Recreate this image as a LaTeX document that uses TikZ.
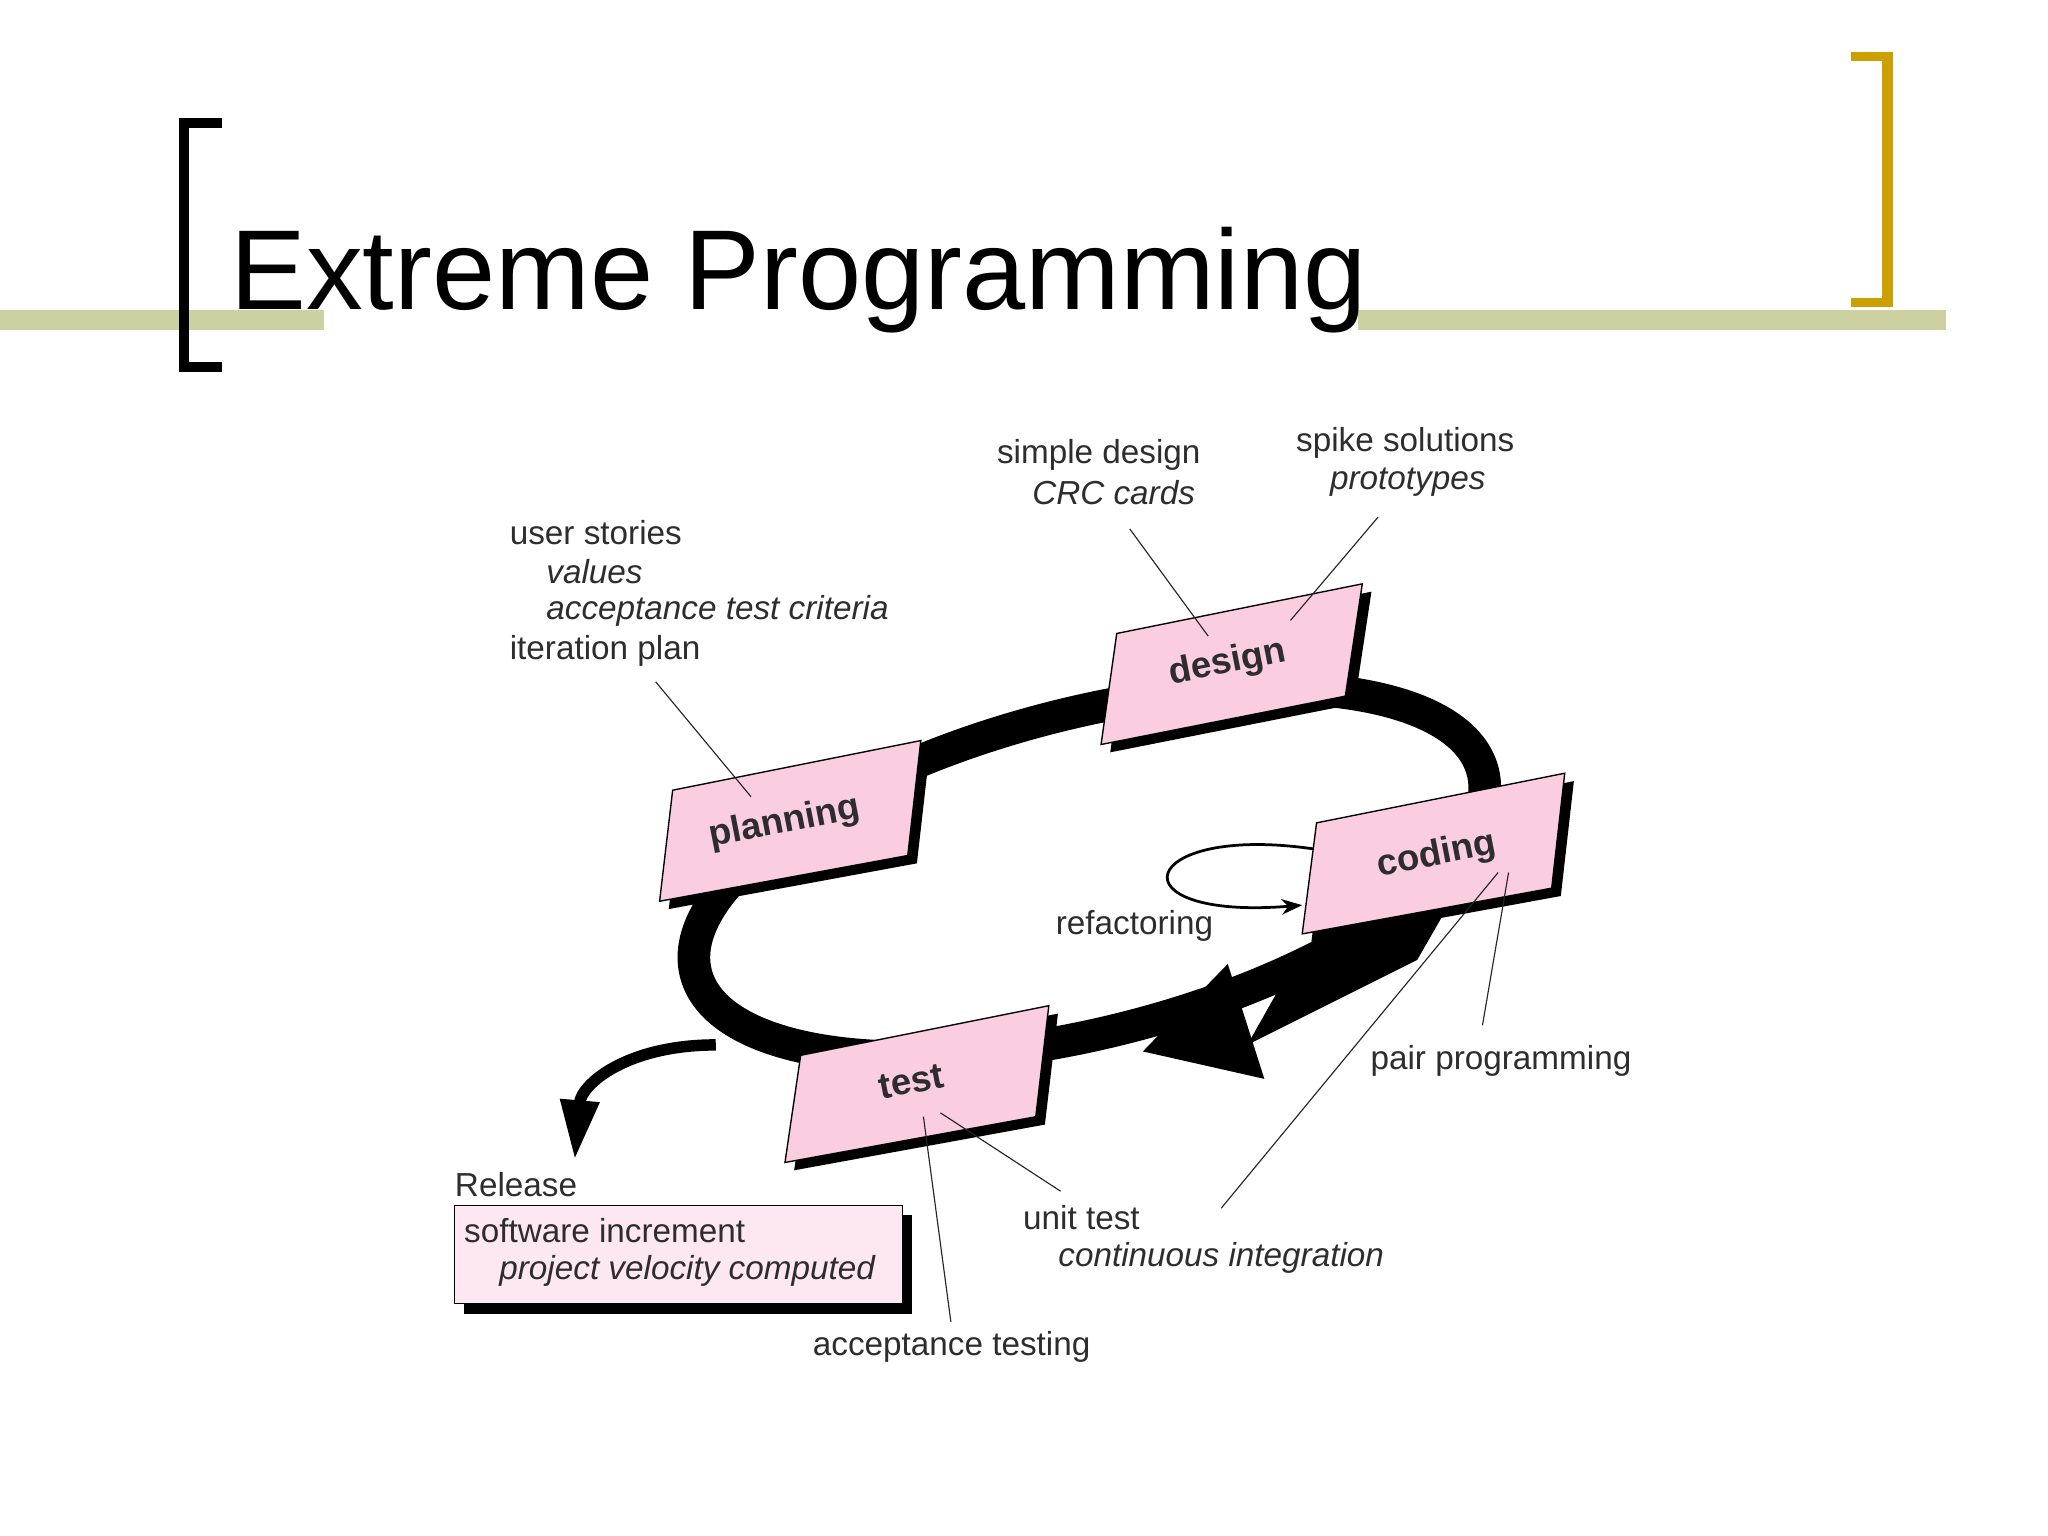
\documentclass[tikz,border=0pt]{standalone}
\usepackage{fontspec}
\setmainfont{Liberation Sans}
\usetikzlibrary{arrows.meta}
\definecolor{barc}{RGB}{205,208,160}
\definecolor{goldc}{RGB}{204,160,0}
\definecolor{pinkc}{RGB}{250,205,225}
\definecolor{lpink}{RGB}{253,232,242}
\definecolor{txt}{RGB}{45,45,45}
\tikzset{
 lbl/.style={anchor=west,inner sep=0pt,text=txt,font=\fontsize{14.5}{16}\selectfont},
 ilbl/.style={lbl,font=\fontsize{14.5}{16}\selectfont\itshape},
 boxt/.style={rotate=11,text=txt,font=\fontsize{16}{18}\selectfont\bfseries},
 lead/.style={draw=black!85,line width=0.5pt},
}
\begin{document}
\begin{tikzpicture}[x=0.02cm,y=-0.02cm]
\useasboundingbox (0,0) rectangle (1568,1176);
% title bars & brackets
\fill[barc] (0,237) rectangle (248,253);
\fill[barc] (1040,237) rectangle (1490,253);
\node[anchor=base west,inner sep=0pt,font=\fontsize{49.5}{56}\selectfont] (title) at (176,237) {Extreme Programming};
\fill[black] (137,90) rectangle (145,285);
\fill[black] (137,90) rectangle (170,98);
\fill[black] (137,277) rectangle (170,285);
\fill[goldc] (1441,40) rectangle (1449,235);
\fill[goldc] (1417,40) rectangle (1449,47);
\fill[goldc] (1417,228) rectangle (1449,235);
% loop
\draw[line width=0.5cm] (834,668) ellipse[x radius=311,y radius=122,rotate=14.4];
% arrow wedge
\fill[black] (990,738) -- (1112,688) -- (1085,735) -- (955,800) -- cycle;
\fill[black] (875,805) -- (940,738) -- (968,826) -- cycle;
% release arrow
\coordinate (rs) at (548,800);
\coordinate (re) at (440,888);
\draw[line width=5pt,-{Triangle[length=26pt,width=16pt]}] (rs) .. controls (480,800) and (445,830) .. (re);
% refactoring loop
\coordinate (rf1) at (1006,650);
\coordinate (rf2) at (997,693);
\draw[line width=1.2pt,-{Stealth[length=9pt]}] (rf1) .. controls (870,630) and (850,705) .. (rf2);
% boxes
\foreach \n/\a/\b/\c/\d in {pl/{515,605}/{705,567}/{695,655}/{505,690},
 de/{855,485}/{1043,447}/{1030,533}/{843,570},
 co/{1008,630}/{1198,592}/{1188,680}/{997,715},
 te/{613,808}/{803,770}/{793,855}/{601,890}}{
 \fill[black,shift={(7,6)}] (\a) -- (\b) -- (\c) -- (\d) -- cycle;
 \filldraw[fill=pinkc,draw=black,line width=0.6pt] (\a) -- (\b) -- (\c) -- (\d) -- cycle;
}
\node[boxt] (planning) at (601,630) {planning};
\node[boxt] (design) at (940,508) {design};
\node[boxt] (coding) at (1100,655) {coding};
\node[boxt] (test) at (698,828) {test};
% release box
\fill[black] (355,930) rectangle (698,1006);
\filldraw[fill=lpink,draw=black,line width=0.6pt] (348,923) rectangle (691,998);
\node[lbl] (rel) at (348,907) {Release};
\node[lbl] (si) at (355,942) {software increment};
\node[ilbl] (pv) at (382,973) {project velocity computed};
% labels
\node[lbl] (us) at (390,408) {user stories};
\node[ilbl] (va) at (418,438) {values};
\node[ilbl] (atc) at (418,468) {acceptance test criteria};
\node[lbl] (ip) at (390,498) {iteration plan};
\node[lbl] (sd) at (763,348) {simple design};
\node[ilbl] (crc) at (790,377) {CRC cards};
\node[lbl] (ss) at (992,339) {spike solutions};
\node[ilbl] (pr) at (1018,369) {prototypes};
\node[lbl] (rfl) at (808,709) {refactoring};
\node[lbl] (pp) at (1049,812) {pair programming};
\node[lbl] (ut) at (783,932) {unit test};
\node[ilbl] (ci) at (810,963) {continuous integration};
\node[lbl] (at) at (622,1031) {acceptance testing};
% leader lines
\coordinate (l1a) at (502,522); \coordinate (l1b) at (575,610);
\coordinate (l2a) at (865,405); \coordinate (l2b) at (925,487);
\coordinate (l3a) at (1055,396); \coordinate (l3b) at (988,475);
\coordinate (l4a) at (1147,668); \coordinate (l4b) at (935,925);
\coordinate (l5a) at (1155,668); \coordinate (l5b) at (1135,785);
\coordinate (l6a) at (720,852); \coordinate (l6b) at (812,912);
\coordinate (l7a) at (707,855); \coordinate (l7b) at (728,1012);
\foreach \p in {1,...,7}{\draw[lead] (l\p a) -- (l\p b);}
\end{tikzpicture}
\end{document}
